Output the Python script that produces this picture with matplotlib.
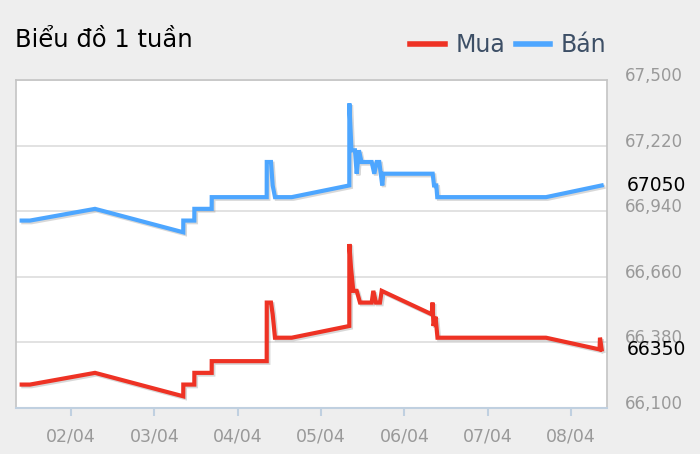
import matplotlib
matplotlib.use("Agg")
import matplotlib.pyplot as plt
import matplotlib.dates as mdates
import matplotlib.patheffects as pe
from matplotlib.ticker import FixedLocator, FuncFormatter
from matplotlib.transforms import ScaledTranslation
import pandas as pd

# Bán (sell) series
ban_time = [
    "2024-04-01 09:48", "2024-04-01 12:11", "2024-04-02 06:55", "2024-04-03 08:20",
    "2024-04-03 08:21", "2024-04-03 11:31", "2024-04-03 11:32", "2024-04-03 16:31",
    "2024-04-03 16:32", "2024-04-04 08:22", "2024-04-04 08:23", "2024-04-04 09:36",
    "2024-04-04 10:05", "2024-04-04 10:45", "2024-04-04 15:34", "2024-04-05 08:09",
    "2024-04-05 08:10", "2024-04-05 08:47", "2024-04-05 09:47", "2024-04-05 10:17",
    "2024-04-05 10:56", "2024-04-05 11:40", "2024-04-05 14:36", "2024-04-05 15:21",
    "2024-04-05 16:02", "2024-04-05 16:47", "2024-04-05 17:39", "2024-04-05 17:56",
    "2024-04-06 08:10", "2024-04-06 08:33", "2024-04-06 09:13", "2024-04-06 09:29",
    "2024-04-07 16:48", "2024-04-08 08:50",
]
ban_value = [
    66900, 66900, 66950, 66850,
    66900, 66900, 66950, 66950,
    67000, 67000, 67150, 67150,
    67050, 67000, 67000, 67050,
    67400, 67200, 67200, 67100,
    67200, 67150, 67150, 67100,
    67150, 67150, 67050, 67100,
    67100, 67050, 67050, 67000,
    67000, 67050,
]

# Mua (buy) series
mua_time = [
    "2024-04-01 09:48", "2024-04-01 12:11", "2024-04-02 06:55", "2024-04-03 08:20",
    "2024-04-03 08:21", "2024-04-03 11:31", "2024-04-03 11:32", "2024-04-03 16:31",
    "2024-04-03 16:32", "2024-04-04 08:22", "2024-04-04 08:23", "2024-04-04 09:36",
    "2024-04-04 10:05", "2024-04-04 10:45", "2024-04-04 15:34", "2024-04-05 08:09",
    "2024-04-05 08:10", "2024-04-05 08:38", "2024-04-05 09:18", "2024-04-05 10:17",
    "2024-04-05 11:14", "2024-04-05 14:36", "2024-04-05 15:04", "2024-04-05 15:50",
    "2024-04-05 16:59", "2024-04-05 17:29", "2024-04-06 07:53", "2024-04-06 08:07",
    "2024-04-06 08:24", "2024-04-06 08:59", "2024-04-06 09:33", "2024-04-07 16:48",
    "2024-04-08 08:13", "2024-04-08 08:21", "2024-04-08 08:50",
]
mua_value = [
    66200, 66200, 66250, 66150,
    66200, 66200, 66250, 66250,
    66300, 66300, 66550, 66550,
    66500, 66400, 66400, 66450,
    66800, 66700, 66600, 66600,
    66550, 66550, 66600, 66550,
    66550, 66600, 66500, 66550,
    66450, 66490, 66400, 66400,
    66350, 66400, 66350,
]

y_ticks = [66100, 66380, 66660, 66940, 67220, 67500]
x_ticks = ["2024-04-02", "2024-04-03", "2024-04-04", "2024-04-05",
           "2024-04-06", "2024-04-07", "2024-04-08"]
x_range = ["2024-04-01 08:10", "2024-04-08 10:22"]

RED = "#ee3224"
BLUE = "#4da6ff"
BG = "#eeeeee"

fig = plt.figure(figsize=(7, 4.54), dpi=100, facecolor=BG)
ax = fig.add_axes([16 / 700, 1 - 408 / 454, 591 / 700, 328 / 454])
ax.set_facecolor("white")

shadow = [pe.SimpleLineShadow(offset=(1.2, -1.2), shadow_color="gray", alpha=0.3),
          pe.Normal()]
ax.plot(pd.to_datetime(mua_time), mua_value, color=RED, lw=3, label="Mua",
        solid_joinstyle="miter", path_effects=shadow, zorder=3)
ax.plot(pd.to_datetime(ban_time), ban_value, color=BLUE, lw=3, label="Bán",
        solid_joinstyle="miter", path_effects=shadow, zorder=3)

ax.set_xlim(pd.to_datetime(x_range))
ax.set_ylim(y_ticks[0], y_ticks[-1])

# y axis on the right, labels sit above the grid lines
ax.yaxis.tick_right()
ax.yaxis.set_major_locator(FixedLocator(y_ticks))
ax.yaxis.set_major_formatter(FuncFormatter(lambda v, p: f"{int(v):,}"))
ax.tick_params(axis="y", length=0, pad=13, labelsize=12, labelcolor="#999999")
for lab in ax.get_yticklabels():
    lab.set_transform(lab.get_transform() + ScaledTranslation(0, 6 / 100, fig.dpi_scale_trans))
ax.grid(axis="y", color="#dddddd", lw=1.2)
ax.set_axisbelow(True)

ax.set_xticks(pd.to_datetime(x_ticks))
ax.xaxis.set_major_formatter(mdates.DateFormatter("%d/%m"))
ax.tick_params(axis="x", length=6, width=1.5, color="#c0d0e0", pad=8,
               labelsize=12.5, labelcolor="#999999")

for side in ["left", "top", "right"]:
    ax.spines[side].set_color("#c4c4c4")
    ax.spines[side].set_linewidth(1.2)
ax.spines["bottom"].set_color("#c0d0e0")
ax.spines["bottom"].set_linewidth(1.5)

# last values next to the axis
for val in [ban_value[-1], mua_value[-1]]:
    ax.annotate(str(val), xy=(1.034, val), xycoords=("axes fraction", "data"),
                va="center", ha="left", fontsize=13.5, color="black",
                annotation_clip=False)

fig.text(15 / 700, 1 - 47 / 454, "Biểu đồ 1 tuần", fontsize=17.5, color="black",
         va="baseline", ha="left")

leg = fig.legend(loc="center right", bbox_to_anchor=(606 / 700, 1 - 45 / 454),
                 ncol=2, frameon=False, fontsize=17, handlelength=1.45,
                 handletextpad=0.45, columnspacing=0.45, borderpad=0,
                 borderaxespad=0)
for t in leg.get_texts():
    t.set_color("#3d4f66")
for h in leg.legend_handles:
    h.set_linewidth(4)
    h.set_path_effects([])

fig.savefig("out.png", dpi=100, facecolor=BG)
